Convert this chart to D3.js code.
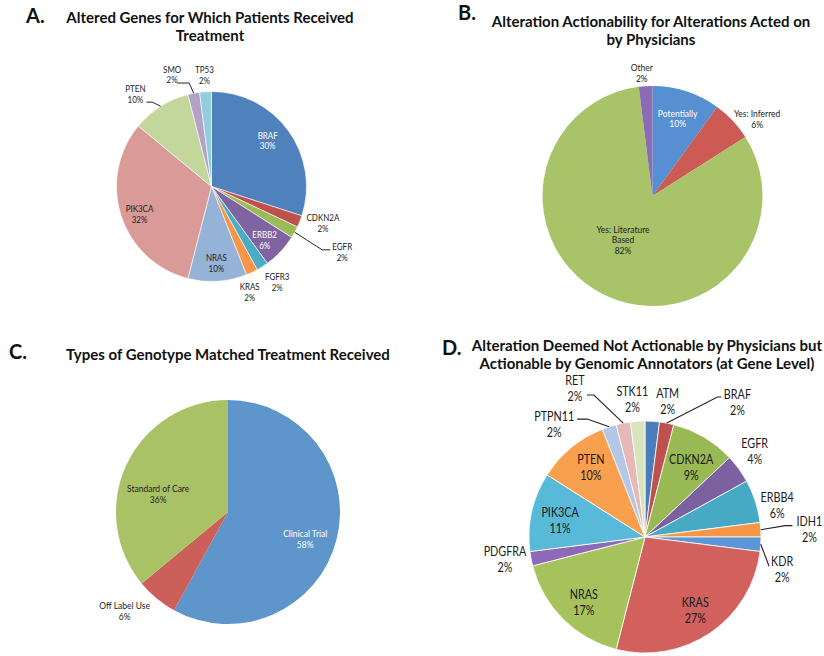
<!DOCTYPE html>
<html><head><meta charset="utf-8">
<script src="https://cdn.jsdelivr.net/npm/d3@7"></script>
<style>body{margin:0;background:#fff}svg{display:block}text{font-family:Lato,"Open Sans",sans-serif}</style>
</head><body><svg id="chart" width="824" height="656"></svg>
<script>
// ---------- DATA ----------
// Panel A
const genesA = ["BRAF","CDKN2A","EGFR","ERBB2","FGFR3","KRAS","NRAS","PIK3CA","PTEN","SMO","TP53"];
const pctA   = [30,2,2,6,2,2,10,32,10,2,2];
// Panel B
const catsB = ["Potentially","Yes: Inferred","Yes: Literature\nBased","Other"];
const pctB  = [10,6,82,2];
// Panel C
const catsC = ["Clinical Trial","Off Label Use","Standard of Care"];
const pctC  = [58,6,36];
// Panel D
const genesD = ["ATM","BRAF","CDKN2A","EGFR","ERBB4","IDH1","KDR","KRAS","NRAS","PDGFRA","PIK3CA","PTEN","PTPN11","RET","STK11"];
const pctD   = [2,2,9,4,6,2,2,27,17,2,11,10,2,2,2];

// ---------- STYLES ----------
const colorsA = ["#4F81BD","#C0504D","#9BBB59","#8064A2","#4BACC6","#F79646","#95B3D7","#DA9A98","#C3D69B","#B3A2C7","#93CDDD"];
const textColA = ["#fff","#222","#222","#fff","#222","#222","#222","#222","#222","#222","#222"];
const colorsB = ["#5690D2","#CC5A55","#A8C368","#8B6BB3"];
const textColB = ["#fff","#222","#222","#222"];
const colorsC = ["#5E95CA","#CC5F59","#A9C266"];
const textColC = ["#fff","#222","#222"];
const colorsD = ["#4A7EBB","#C0504D","#98B954","#7D60A0","#46AAC5","#F79646","#5A96D8","#D2615E","#A6C25D","#8D69B8","#58BAD8","#F9A04E","#B3C8E6","#E6B9B8","#D7E4BD"];

// label layout: [radius factor, dx, dy]
const layA = [[.77,-3,-3],[1.25,1,-7],[1.57,0,-6],[.84,-5,-1],[1.27,1,-6],[1.24,-12,-1],[.81,0,0],[.83,3,3],[1.22,-14,5],[1.2,-18,0],[1.18,0,0]];
const leadA = {2:[-12,-2.5,-8], 8:[11,8.5,6], 9:[5,8.5,12]};
const layB = [[.74,0,0],[1.18,10,12],[.48,-7,-4],[1.12,-3,0]];
const layC = [[.73,-2,7],[1.28,-12,-11],[.64,-5,13]];
const layD = [[1.19,14,2],[1.4,62,25],[.715,4,2],[1.2,-3,-4],[1.17,3,10],[1.42,0,3],[1.21,-3,24],[.77,0,0],[.77,2,2],[1.22,-1,-4],[.75,0,2],[.76,2,-2],[1.25,-46,25],[1.43,-39,14],[1.19,-4,0]];
const leadD = {1:[-16,-5.5,-4], 5:[-17,-4,-7], 6:[-13,-3.5,0], 12:[23,-5,10], 13:[12,7,7]};

const svg = d3.select("#chart");

function drawPie(o){
  const g = svg.append("g");
  const pie = d3.pie().sort(null).value(d=>d);
  const arcs = pie(o.values);
  const arc = d3.arc().innerRadius(0).outerRadius(o.r);
  const pg = g.append("g").attr("transform",`translate(${o.cx},${o.cy})`);
  pg.selectAll("path").data(arcs).join("path")
    .attr("d",arc).attr("fill",(d,i)=>o.colors[i])
    .attr("stroke",o.stroke||"none").attr("stroke-width",o.strokeW||0);
  const pt = (a,R)=>[o.cx+R*Math.sin(a), o.cy-R*Math.cos(a)];
  arcs.forEach((d,i)=>{
    const mid=(d.startAngle+d.endAngle)/2;
    const L=o.layout[i];
    const p=pt(mid,o.r*L[0]);
    const ax=p[0]+L[1], ay=p[1]+L[2];
    const lines=(o.names[i]+"\n"+o.values[i]+"%").split("\n");
    const t=g.append("text").attr("text-anchor","middle")
      .attr("transform",`translate(${ax},${ay}) scale(${o.sx},1)`)
      .attr("font-size",o.fs).attr("fill",o.textCol?o.textCol[i]:"#1a1a1a");
    lines.forEach((s,j)=>{
      t.append("tspan").attr("x",0).attr("y",(j-(lines.length-1)/2)*o.lh).attr("dy","0.35em").text(s);
    });
    if(o.leaders && o.leaders[i]){
      const [ex,ey,hx]=o.leaders[i];
      const e=[ax+ex,ay+ey], el=[e[0]+hx,e[1]], s=pt(mid,o.r);
      g.append("path").attr("d",d3.line()([e,el,s])).attr("fill","none")
        .attr("stroke","#222").attr("stroke-width",o.lw||1);
    }
  });
}

function title(x,y,lines,fs,lh){
  const t=svg.append("text").attr("text-anchor","middle").attr("font-weight","bold").attr("font-size",fs).attr("fill","#111");
  lines.forEach((s,j)=>t.append("tspan").attr("x",x).attr("y",y+j*lh).attr("dy","0.35em").text(s));
}
function letter(x,y,s){
  svg.append("text").attr("x",x).attr("y",y).attr("dy","0.35em").attr("font-weight","bold").attr("font-size",20).attr("fill","#111").text(s);
}

// Panel A
letter(26,16,"A.");
title(210,17.3,["Altered Genes for Which Patients Received","Treatment"],15,18.7);
drawPie({cx:211.5,cy:186.5,r:95,values:pctA,names:genesA,colors:colorsA,textCol:textColA,layout:layA,leaders:leadA,fs:10,sx:.8,lh:10.8,stroke:"#fff",strokeW:0.6});

// Panel B
letter(458,12.5,"B.");
title(651,21.7,["Alteration Actionability for Alterations Acted on","by Physicians"],15,18.5);
drawPie({cx:652.5,cy:196,r:110,values:pctB,names:catsB,colors:colorsB,textCol:textColB,layout:layB,fs:10,sx:.85,lh:10.7});

// Panel C
letter(9,351.5,"C.");
title(228,354.3,["Types of Genotype Matched Treatment Received"],15,18);
drawPie({cx:228,cy:512,r:112,values:pctC,names:catsC,colors:colorsC,textCol:textColC,layout:layC,fs:10,sx:.85,lh:11});

// Panel D
letter(442,347.5,"D.");
title(647,346,["Alteration Deemed Not Actionable by Physicians but","Actionable by Genomic Annotators (at Gene Level)"],15,18.2);
drawPie({cx:645,cy:537,r:116,values:pctD,names:genesD,colors:colorsD,layout:layD,leaders:leadD,fs:13,sx:.83,lh:16,stroke:"#fff",strokeW:0.8,lw:1.1});
</script></body></html>
